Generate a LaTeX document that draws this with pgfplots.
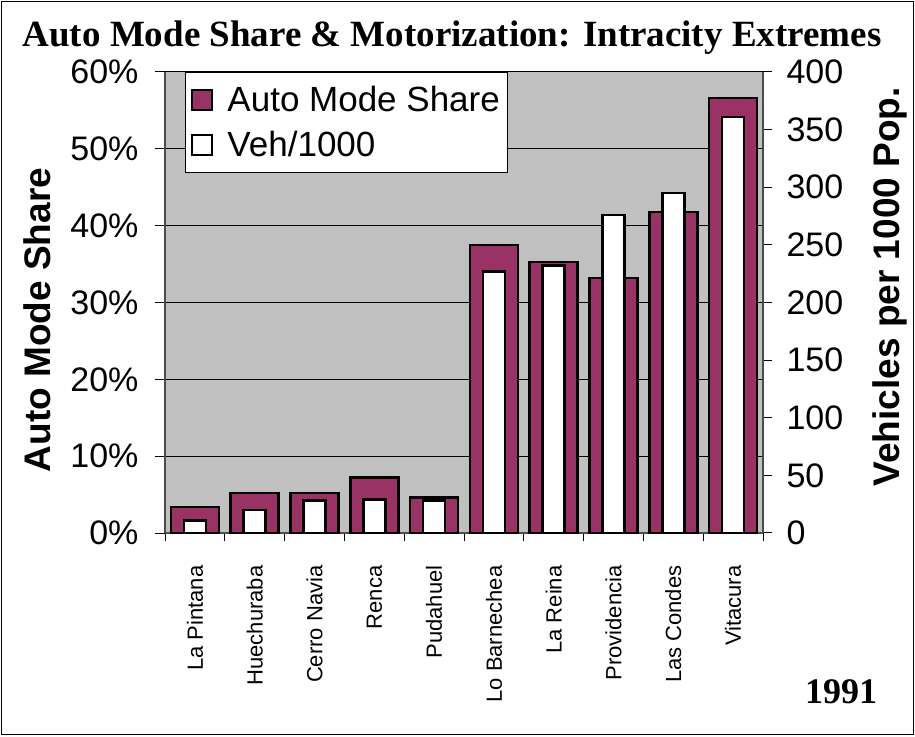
\documentclass[border=0pt]{standalone}
\usepackage{pgfplots}
\pgfplotsset{compat=1.18}
\usepackage{fontspec}
\setmainfont{Liberation Sans}
\newfontfamily\timesf{Liberation Serif}
\definecolor{maroon}{RGB}{153,51,102}
\definecolor{bg}{RGB}{192,192,192}
\pgfplotsset{sqlegend/.style={legend image code/.code={\draw[##1, line width=2pt] (0pt,-10pt) rectangle (20pt,10pt);}}}
\pgfplotstableread{
x share veh
0 3.4 11
1 5.2 20
2 5.2 28
3 7.2 29
4 4.6 28
5 37.5 227
6 35.3 232
7 33.2 276
8 41.8 295
9 56.6 361
}\data
\begin{document}
\begin{tikzpicture}[x=1pt,y=1pt]
\path (0,0) rectangle (915,736);
\draw[line width=1.5pt] (1.5,1.5) rectangle (913.5,734.5);
\begin{axis}[
  at={(165pt,203pt)}, anchor=south west, scale only axis,
  width=598pt, height=461pt,
  xmin=-0.5, xmax=9.5, ymin=0, ymax=60,
  axis background/.style={fill=bg},
  axis x line*=bottom, axis y line*=left,
  axis line style={line width=1.5pt, black!70},
  ybar, bar width=48pt, bar shift=0pt,
  ytick={0,10,...,60},
  yticklabel={\pgfmathprintnumber{\tick}\%},
  /pgf/number format/assume math mode=true,
  ymajorgrids, grid style={black, line width=1pt},
  tick align=outside, major tick length=10pt, minor tick length=8pt,
  tick style={black, line width=1pt},
  xtick={0,...,9},
  major x tick style={draw=none},
  minor xtick={-0.5,0.5,...,9.5},
  xticklabels={La Pintana,Huechuraba,Cerro Navia,Renca,Pudahuel,Lo Barnechea,La Reina,Providencia,Las Condes,Vitacura},
  x tick label style={yshift=-19pt, rotate=90, anchor=east, font=\fontsize{22}{22}\selectfont},
  y tick label style={xshift=-13pt, font=\fontsize{34}{34}\selectfont},
  ylabel={\bfseries Auto Mode Share},
  ylabel style={font=\fontsize{37}{37}\selectfont, at={(axis description cs:-0.214,0.462)}, anchor=center, rotate=0},
]
\addplot[fill=maroon, draw=black, line width=2.5pt] table[x=x, y=share] {\data};
\end{axis}
\begin{axis}[
  at={(165pt,203pt)}, anchor=south west, scale only axis,
  width=598pt, height=461pt,
  xmin=-0.5, xmax=9.5, ymin=0, ymax=400,
  axis y line*=right, axis x line=none,
  axis line style={line width=1.5pt, black!70},
  ybar, bar width=22pt, bar shift=0pt,
  ytick={0,50,...,400},
  /pgf/number format/assume math mode=true,
  tick align=outside, major tick length=9pt,
  tick style={black, line width=1pt},
  y tick label style={xshift=11pt, font=\fontsize{34}{34}\selectfont},
  ylabel={\bfseries Vehicles per 1000 Pop.},
  ylabel style={font=\fontsize{37}{37}\selectfont, at={(axis description cs:1.212,0.534)}, anchor=center},
  legend style={at={(axis description cs:0.0334,1)}, anchor=north west, draw=black, line width=1pt, fill=white,
    font=\fontsize{35}{35}\selectfont, row sep=14pt, inner xsep=6pt, inner ysep=12pt,
    /tikz/every odd column/.append style={column sep=12pt}},
  legend cell align=left,
]
\addlegendimage{fill=maroon, draw=black, sqlegend}
\addlegendentry{Auto Mode Share}
\addplot[fill=white, draw=black, line width=2.5pt, sqlegend] table[x=x, y=veh] {\data};
\addlegendentry{Veh/1000}
\end{axis}
\node[font=\timesf\bfseries\fontsize{37}{37}\selectfont, anchor=base] at (452,689) {Auto Mode Share \& Motorization: Intracity Extremes};
\node[font=\timesf\bfseries\fontsize{36}{36}\selectfont, anchor=base] at (841,33) {1991};
\end{tikzpicture}
\end{document}
